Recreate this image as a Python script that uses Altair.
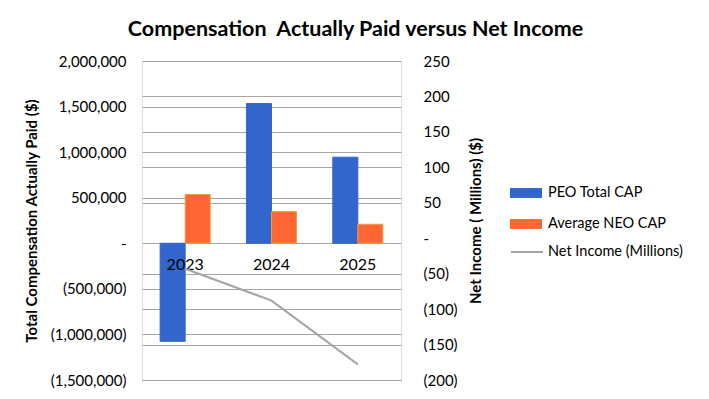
import altair as alt
import pandas as pd

years = ["2023", "2024", "2025"]
peo_cap = [-1076000, 1533000, 945000]
neo_cap = [535000, 348000, 209000]
net_income = [-43, -88, -178]

bar_series = ["PEO Total CAP", "Average NEO CAP"]
bar_colors = ["#3366CC", "#FF6633"]
line_name = ["Net Income (Millions)"]
line_color = ["#A5A5A5"]

bars_df = pd.DataFrame(
    [{"year": y, "series": bar_series[0], "value": v} for y, v in zip(years, peo_cap)]
    + [{"year": y, "series": bar_series[1], "value": v} for y, v in zip(years, neo_cap)]
)
line_df = pd.DataFrame({"year": years, "ni": net_income, "name": line_name * len(years)})
year_df = pd.DataFrame({"year": years, "zero": [0, 0, 0]})

FONT = "Lato"
left_ticks = [2000000, 1500000, 1000000, 500000, 0, -500000, -1000000, -1500000]
right_ticks = [250, 200, 150, 100, 50, 0, -50, -100, -150, -200]
label_expr = ("datum.value == 0 ? '-' : datum.value < 0 ? '(' + format(-datum.value, ',') + ')'"
              " : format(datum.value, ',')")

xscale = alt.Scale(domain=years, paddingInner=0.42, paddingOuter=0.21)
x_enc = alt.X("year:N", scale=xscale, axis=None)

rect_path = "M-1,-0.31H1V0.31H-1Z"

yleft = alt.Y(
    "value:Q",
    scale=alt.Scale(domain=[-1500000, 2000000], nice=False, zero=False),
    axis=alt.Axis(
        values=left_ticks, labelExpr=label_expr, orient="left",
        title="Total Compensation Actually Paid ($)",
        titleFont=FONT, titleFontSize=15, titleFontWeight="bold", titleColor="#000000",
        titlePadding=11,
        labelFont=FONT, labelFontSize=15, labelColor="#000000", labelPadding=16,
        ticks=False, domain=False, grid=True, gridColor="#A6A6A6", gridWidth=1,
    ),
)

bars = alt.Chart(bars_df).mark_bar(strokeWidth=1).encode(
    x=x_enc,
    xOffset=alt.XOffset("series:N", scale=alt.Scale(domain=bar_series, paddingInner=0, paddingOuter=0)),
    y=yleft,
    fill=alt.Fill(
        "series:N", scale=alt.Scale(domain=bar_series, range=bar_colors),
        legend=alt.Legend(
            title=None, orient="none", legendX=368, legendY=116,
            labelFont=FONT, labelFontSize=14.5, labelColor="#000000",
            symbolType=rect_path, symbolSize=1024, symbolStrokeWidth=0,
            rowPadding=8, labelOffset=6,
        ),
    ),
    stroke=alt.condition(alt.datum.series == "Average NEO CAP", alt.value("#E9A13B"), alt.value("#3366CC")),
)

labels = alt.Chart(year_df).mark_text(
    font=FONT, fontSize=16, color="#000000", baseline="middle", dy=22
).encode(
    x=x_enc,
    y=alt.Y("zero:Q"),
    text="year:N",
)

left_layer = alt.layer(bars, labels)

line = alt.Chart(line_df).mark_line(strokeWidth=2).encode(
    x=x_enc,
    y=alt.Y(
        "ni:Q",
        scale=alt.Scale(domain=[-200, 250], nice=False, zero=False),
        axis=alt.Axis(
            values=right_ticks, labelExpr=label_expr, orient="right",
            title="Net Income ( Millions) ($)", titleAngle=270,
            titleFont=FONT, titleFontSize=15, titleFontWeight="bold", titleColor="#000000",
            titlePadding=26,
            labelFont=FONT, labelFontSize=15, labelColor="#000000", labelPadding=22,
            ticks=False, domain=False, grid=True, gridColor="#A6A6A6", gridWidth=1,
            gridOpacity=alt.ConditionalAxisNumber(condition={"test": "datum.value == 0", "value": 0}, value=1),
        ),
    ),
    stroke=alt.Stroke(
        "name:N", scale=alt.Scale(domain=line_name, range=line_color),
        legend=alt.Legend(
            title=None, orient="none", legendX=368, legendY=174,
            labelFont=FONT, labelFontSize=14.5, labelColor="#000000",
            symbolType="stroke", symbolSize=1024, symbolStrokeWidth=2,
            labelOffset=4,
        ),
    ),
)

chart = alt.layer(left_layer, line).resolve_scale(y="independent").properties(
    width=259, height=319,
    autosize=alt.AutoSizeParams(type="none"),
    padding={"left": 134, "top": 53, "right": 300, "bottom": 11},
    title=alt.TitleParams(
        "Compensation\u00a0\u00a0Actually Paid versus Net Income",
        font=FONT, fontSize=21.5, fontWeight="bold", color="#000000",
        anchor="middle", frame="group", dx=84, offset=14,
    ),
).configure_view(stroke="#A6A6A6", strokeWidth=1.3).configure(background="#FFFFFF")

chart.save("out.html", embed_options={"renderer": "svg", "actions": False})
